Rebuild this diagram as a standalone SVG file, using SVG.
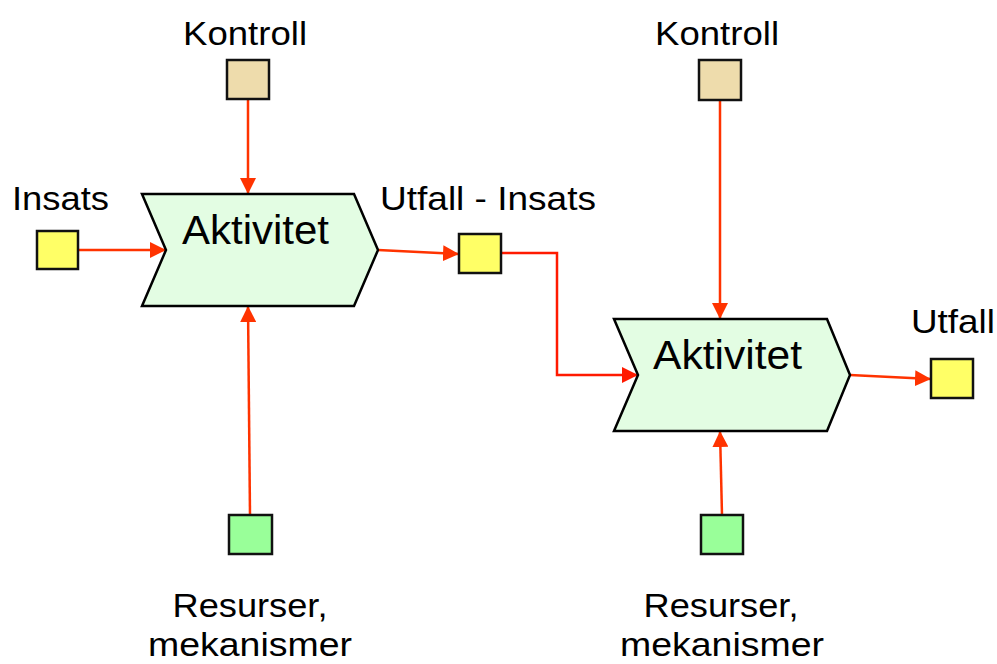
<svg xmlns="http://www.w3.org/2000/svg" width="997" height="664" viewBox="0 0 997 664">
  <defs>
    <marker id="arrow" markerUnits="userSpaceOnUse" markerWidth="18" markerHeight="16" refX="16" refY="8" orient="auto">
      <path d="M0,0 L16,8 L0,16 Z" fill="#FF3300"/>
    </marker>
    <marker id="arrowRed" markerUnits="userSpaceOnUse" markerWidth="18" markerHeight="16" refX="16" refY="8" orient="auto">
      <path d="M0,0 L16,8 L0,16 Z" fill="#FF1A00"/>
    </marker>
  </defs>
  <style>
    .label { font-family: "Liberation Sans", Arial, sans-serif; font-size: 34px; fill: #000; }
    .title { font-family: "Liberation Sans", Arial, sans-serif; font-size: 41px; fill: #000; }
    .activity { fill: #E3FDE3; stroke: #000; stroke-width: 2.5; stroke-linejoin: miter; }
    .box { stroke: #111; stroke-width: 2.5; }
    .input { fill: #FFFF66; }
    .control { fill: #EEDCAC; }
    .resource { fill: #99FF99; }
    .conn { fill: none; stroke: #FF3300; stroke-width: 2.5; marker-end: url(#arrow); }
    .connRed { fill: none; stroke: #FF1A00; stroke-width: 2.5; marker-end: url(#arrowRed); }
  </style>
  <rect width="997" height="664" fill="#FFFFFF"/>

  <!-- connectors -->
  <g id="connectors">
    <line class="conn" x1="248" y1="99" x2="248" y2="194"/>
    <line class="conn" x1="79" y1="250" x2="166" y2="250"/>
    <line class="conn" x1="250" y1="515" x2="248" y2="306"/>
    <line class="conn" x1="378" y1="250" x2="459" y2="254"/>
    <polyline class="connRed" points="501,253 557,253 557,375 638,375"/>
    <line class="conn" x1="720" y1="100" x2="720" y2="319"/>
    <line class="conn" x1="722" y1="515" x2="720" y2="431"/>
    <line class="conn" x1="850" y1="375" x2="931" y2="379"/>
  </g>

  <!-- first activity -->
  <g id="activity1">
    <polygon class="activity" points="142,194 354,194 378,250 354,306 142,306 166,250"/>
    <text class="title" x="182" y="244" textLength="147" lengthAdjust="spacingAndGlyphs">Aktivitet</text>
  </g>
  <g id="control1">
    <rect class="box control" x="227" y="60" width="42" height="39"/>
    <text class="label" x="183" y="45" textLength="124" lengthAdjust="spacingAndGlyphs">Kontroll</text>
  </g>
  <g id="input1">
    <rect class="box input" x="37" y="231" width="41" height="38"/>
    <text class="label" x="12" y="210" textLength="97" lengthAdjust="spacingAndGlyphs">Insats</text>
  </g>
  <g id="resource1">
    <rect class="box resource" x="229" y="515" width="43" height="39"/>
    <text class="label" x="250" y="617" text-anchor="middle" textLength="155" lengthAdjust="spacingAndGlyphs">Resurser,</text>
    <text class="label" x="250" y="656" text-anchor="middle" textLength="204" lengthAdjust="spacingAndGlyphs">mekanismer</text>
  </g>

  <!-- intermediate output / input -->
  <g id="output1">
    <rect class="box input" x="459" y="234" width="42" height="39"/>
    <text class="label" x="380" y="210" textLength="216" lengthAdjust="spacingAndGlyphs">Utfall - Insats</text>
  </g>

  <!-- second activity -->
  <g id="activity2">
    <polygon class="activity" points="614,319 827,319 850,375 827,431 614,431 638,375"/>
    <text class="title" x="653" y="369" textLength="149" lengthAdjust="spacingAndGlyphs">Aktivitet</text>
  </g>
  <g id="control2">
    <rect class="box control" x="699" y="60" width="42" height="40"/>
    <text class="label" x="655" y="45" textLength="124" lengthAdjust="spacingAndGlyphs">Kontroll</text>
  </g>
  <g id="resource2">
    <rect class="box resource" x="701" y="515" width="42" height="39"/>
    <text class="label" x="721" y="617" text-anchor="middle" textLength="155" lengthAdjust="spacingAndGlyphs">Resurser,</text>
    <text class="label" x="722" y="656" text-anchor="middle" textLength="204" lengthAdjust="spacingAndGlyphs">mekanismer</text>
  </g>
  <g id="output2">
    <rect class="box input" x="931" y="359" width="42" height="39"/>
    <text class="label" x="911" y="333" textLength="84" lengthAdjust="spacingAndGlyphs">Utfall</text>
  </g>
</svg>
